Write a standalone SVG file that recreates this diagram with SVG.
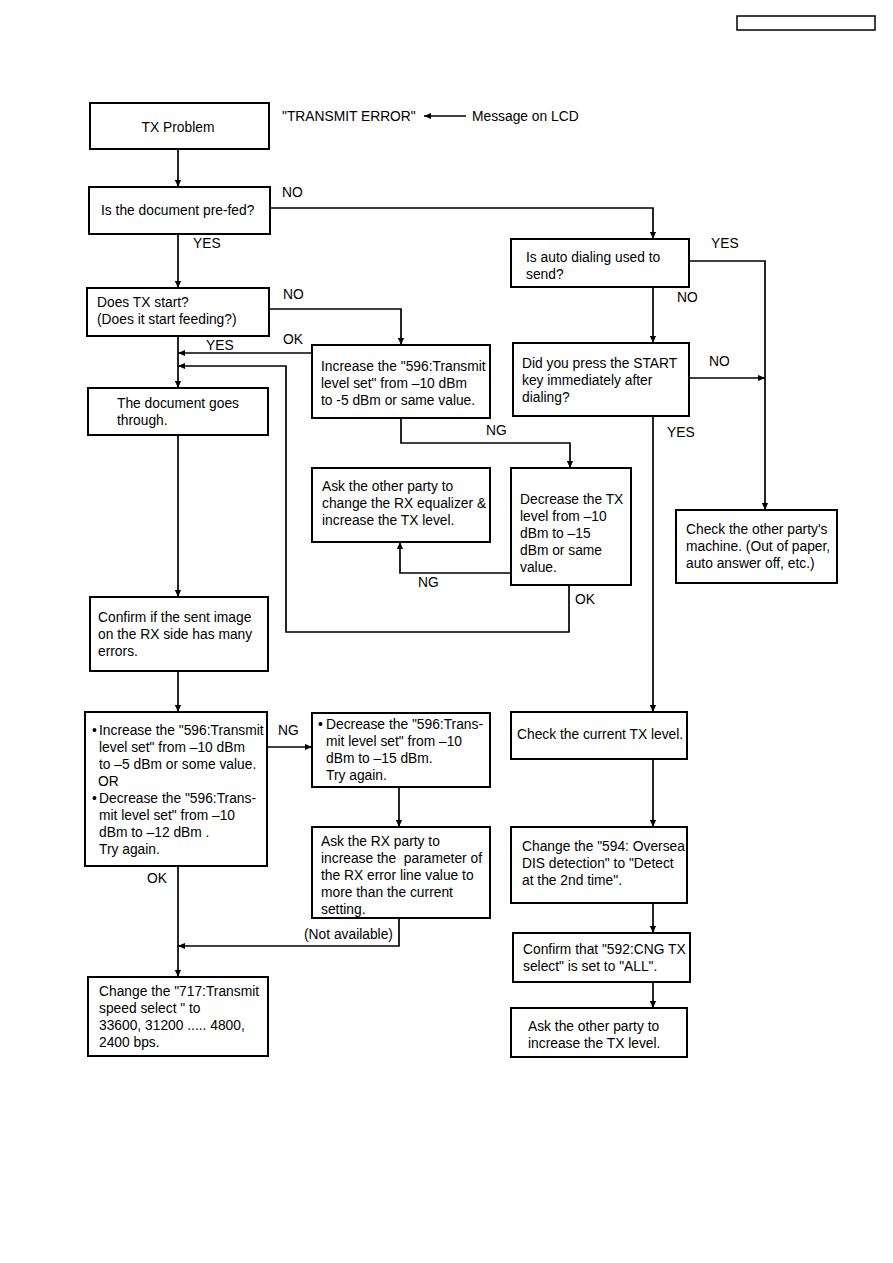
<svg xmlns="http://www.w3.org/2000/svg" width="893" height="1263" viewBox="0 0 893 1263">
<defs>
<style>
.box{fill:#fff;stroke:#000;stroke-width:2}
.ln{fill:none;stroke:#000;stroke-width:1.7}
text{font-family:"Liberation Sans",Arial,sans-serif;font-size:13.8px;fill:#000}
</style>
<marker id="ah" viewBox="0 0 8 8" refX="8" refY="4" markerWidth="7" markerHeight="7" markerUnits="userSpaceOnUse" orient="auto">
<path d="M0,0.5 L8,4 L0,7.5 Z" fill="#000"/>
</marker>
</defs>
<rect width="893" height="1263" fill="#fff"/>
<rect id="header" x="737" y="16" width="138" height="14" fill="#fff" stroke="#000" stroke-width="1.5"/>

<g id="connectors">
<path class="ln" d="M178,149 V187" marker-end="url(#ah)"/>
<path class="ln" d="M178,234 V288" marker-end="url(#ah)"/>
<path class="ln" d="M178,336 V388" marker-end="url(#ah)"/>
<path class="ln" d="M178,435 V597" marker-end="url(#ah)"/>
<path class="ln" d="M178,671 V712" marker-end="url(#ah)"/>
<path class="ln" d="M178,866 V977" marker-end="url(#ah)"/>
<path class="ln" d="M270,208 H653 V239" marker-end="url(#ah)"/>
<path class="ln" d="M269,309 H401 V345" marker-end="url(#ah)"/>
<path class="ln" d="M312,353 H178" marker-end="url(#ah)"/>
<path class="ln" d="M569,585 V632 H286 V366 H178" marker-end="url(#ah)"/>
<path class="ln" d="M401,418 V443 H570 V468" marker-end="url(#ah)"/>
<path class="ln" d="M511,573 H400 V542" marker-end="url(#ah)"/>
<path class="ln" d="M689,261 H765 V510" marker-end="url(#ah)"/>
<path class="ln" d="M653,287 V343" marker-end="url(#ah)"/>
<path class="ln" d="M689,378 H765" marker-end="url(#ah)"/>
<path class="ln" d="M653,416 V712" marker-end="url(#ah)"/>
<path class="ln" d="M653,759 V827" marker-end="url(#ah)"/>
<path class="ln" d="M653,903 V933" marker-end="url(#ah)"/>
<path class="ln" d="M653,982 V1008" marker-end="url(#ah)"/>
<path class="ln" d="M267,747 H312" marker-end="url(#ah)"/>
<path class="ln" d="M399,787 V827" marker-end="url(#ah)"/>
<path class="ln" d="M399,918 V946 H178" marker-end="url(#ah)"/>
<path class="ln" d="M466,116 H424" marker-end="url(#ah)"/>
</g>

<g id="labels">
<text x="282" y="121">"TRANSMIT ERROR"</text>
<text x="472" y="121">Message on LCD</text>
<text x="282" y="197">NO</text>
<text x="193" y="248">YES</text>
<text x="283" y="299">NO</text>
<text x="206" y="350">YES</text>
<text x="283" y="344">OK</text>
<text x="486" y="435">NG</text>
<text x="418" y="587">NG</text>
<text x="575" y="604">OK</text>
<text x="711" y="248">YES</text>
<text x="677" y="302">NO</text>
<text x="709" y="366">NO</text>
<text x="667" y="437">YES</text>
<text x="278" y="735">NG</text>
<text x="147" y="883">OK</text>
<text x="304" y="939">(Not available)</text>
</g>

<g id="n-tx-problem">
<rect class="box" x="90" y="103" width="179" height="46"/>
<text x="178" y="132" text-anchor="middle">TX Problem</text>
</g>
<g id="n-prefed">
<rect class="box" x="89" y="187" width="181" height="47"/>
<text x="101" y="215">Is the document pre-fed?</text>
</g>
<g id="n-tx-start">
<rect class="box" x="87" y="288" width="182" height="48"/>
<text x="97" y="307">Does TX start?</text>
<text x="97" y="324">(Does it start feeding?)</text>
</g>
<g id="n-increase1">
<rect class="box" x="312" y="345" width="178" height="73"/>
<text x="321" y="371">Increase the "596:Transmit</text>
<text x="321" y="388">level set" from –10 dBm</text>
<text x="321" y="405">to -5 dBm or same value.</text>
</g>
<g id="n-goes-through">
<rect class="box" x="88" y="388" width="180" height="47"/>
<text x="117" y="408">The document goes</text>
<text x="117" y="425">through.</text>
</g>
<g id="n-ask-equalizer">
<rect class="box" x="312" y="468" width="178" height="74"/>
<text x="322" y="491">Ask the other party to</text>
<text x="322" y="508">change the RX equalizer &amp;</text>
<text x="322" y="525">increase the TX level.</text>
</g>
<g id="n-decrease1">
<rect class="box" x="511" y="468" width="120" height="117"/>
<text x="520" y="504">Decrease the TX</text>
<text x="520" y="521">level from –10</text>
<text x="520" y="538">dBm to –15</text>
<text x="520" y="555">dBm or same</text>
<text x="520" y="572">value.</text>
</g>
<g id="n-auto-dial">
<rect class="box" x="511" y="239" width="178" height="48"/>
<text x="526" y="262">Is auto dialing used to</text>
<text x="526" y="279">send?</text>
</g>
<g id="n-press-start">
<rect class="box" x="513" y="343" width="176" height="73"/>
<text x="522" y="368">Did you press the START</text>
<text x="522" y="385">key immediately after</text>
<text x="522" y="402">dialing?</text>
</g>
<g id="n-check-other">
<rect class="box" x="676" y="510" width="161" height="73"/>
<text x="686" y="534">Check the other party's</text>
<text x="686" y="551">machine. (Out of paper,</text>
<text x="686" y="568">auto answer off, etc.)</text>
</g>
<g id="n-confirm-errors">
<rect class="box" x="90" y="597" width="178" height="74"/>
<text x="98" y="622">Confirm if the sent image</text>
<text x="98" y="639">on the RX side has many</text>
<text x="98" y="656">errors.</text>
</g>
<g id="n-increase2">
<rect class="box" x="85" y="712" width="182" height="154"/>
<text x="92" y="735">•</text>
<text x="99" y="735">Increase the "596:Transmit</text>
<text x="99" y="752">level set" from –10 dBm</text>
<text x="99" y="769">to –5 dBm or some value.</text>
<text x="98" y="786">OR</text>
<text x="92" y="803">•</text>
<text x="99" y="803">Decrease the "596:Trans-</text>
<text x="99" y="820">mit level set" from –10</text>
<text x="99" y="837">dBm to –12 dBm .</text>
<text x="99" y="854">Try again.</text>
</g>
<g id="n-decrease2">
<rect class="box" x="312" y="713" width="178" height="74"/>
<text x="318" y="729">•</text>
<text x="326" y="729">Decrease the "596:Trans-</text>
<text x="326" y="746">mit level set" from –10</text>
<text x="326" y="763">dBm to –15 dBm.</text>
<text x="326" y="780">Try again.</text>
</g>
<g id="n-ask-rx">
<rect class="box" x="312" y="827" width="178" height="91"/>
<text x="321" y="846">Ask the RX party to</text>
<text x="321" y="863">increase the &#160;parameter of</text>
<text x="321" y="880">the RX error line value to</text>
<text x="321" y="897">more than the current</text>
<text x="321" y="914">setting.</text>
</g>
<g id="n-change-717">
<rect class="box" x="88" y="977" width="180" height="79"/>
<text x="99" y="996">Change the "717:Transmit</text>
<text x="99" y="1013">speed select " to</text>
<text x="99" y="1030">33600, 31200 ..... 4800,</text>
<text x="99" y="1047">2400 bps.</text>
</g>
<g id="n-check-current">
<rect class="box" x="511" y="712" width="176" height="47"/>
<text x="517" y="739">Check the current TX level.</text>
</g>
<g id="n-change-594">
<rect class="box" x="511" y="827" width="176" height="76"/>
<text x="522" y="851">Change the "594: Oversea</text>
<text x="522" y="868">DIS detection" to "Detect</text>
<text x="522" y="885">at the 2nd time".</text>
</g>
<g id="n-confirm-592">
<rect class="box" x="513" y="933" width="177" height="49"/>
<text x="523" y="954">Confirm that "592:CNG TX</text>
<text x="523" y="971">select" is set to "ALL".</text>
</g>
<g id="n-ask-increase">
<rect class="box" x="511" y="1008" width="176" height="49"/>
<text x="528" y="1031">Ask the other party to</text>
<text x="528" y="1048">increase the TX level.</text>
</g>
</svg>
